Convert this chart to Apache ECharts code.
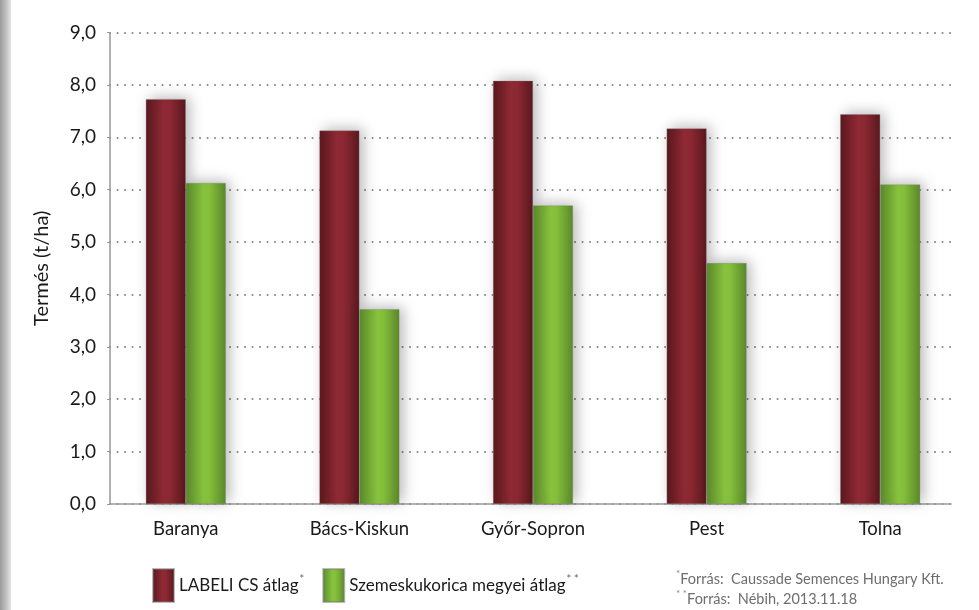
<!DOCTYPE html>
<html>
<head>
<meta charset="utf-8">
<script src="https://cdn.jsdelivr.net/npm/echarts@6/dist/echarts.min.js"></script>
<style>
html,body{margin:0;padding:0;background:#fff;}
#c{width:979px;height:610px;}
</style>
</head>
<body>
<div id="c"></div>
<script>
const categories = ['Baranya', 'Bács-Kiskun', 'Győr-Sopron', 'Pest', 'Tolna'];
const labeliValues = [7.73, 7.13, 8.08, 7.17, 7.44];
const megyeiValues = [6.13, 3.72, 5.70, 4.60, 6.10];
const seriesNames = ['LABELI CS átlag', 'Szemeskukorica megyei átlag'];
const seriesMarks = ['*', '* *'];
const yTicks = [0, 1, 2, 3, 4, 5, 6, 7, 8, 9];
const yName = 'Termés (t/ha)';
const footnotes = ['Forrás:  Caussade Semences Hungary Kft.', 'Forrás:  Nébih, 2013.11.18'];

const FONT = 'Lato, "Open Sans", sans-serif';
const chart = echarts.init(document.getElementById('c'));

const redGrad = new echarts.graphic.LinearGradient(0, 0, 1, 0, [
  {offset: 0, color: '#5a181e'},
  {offset: 0.45, color: '#8f2a34'},
  {offset: 0.6, color: '#8c2832'},
  {offset: 1, color: '#5a181e'}
]);
const greenGrad = new echarts.graphic.LinearGradient(0, 0, 1, 0, [
  {offset: 0, color: '#5a882b'},
  {offset: 0.45, color: '#88c33d'},
  {offset: 0.6, color: '#84be3a'},
  {offset: 1, color: '#5a882b'}
]);

chart.setOption({
  animation: false,
  backgroundColor: '#fff',
  grid: [
    {left: 110, right: 28, top: 32.6, bottom: 106},
    {left: 99, width: 868, top: 32.6, bottom: 106}
  ],
  xAxis: [
    {type: 'category', gridIndex: 0, data: categories,
      axisLine: {show: true, lineStyle: {color: '#999', width: 1.5}},
      axisTick: {show: false}, axisLabel: {show: false}, splitLine: {show: false}},
    {type: 'category', gridIndex: 1, data: categories,
      axisLine: {show: false}, axisTick: {show: false},
      axisLabel: {color: '#1a1a1a', fontSize: 18.5, fontFamily: FONT, margin: 16}}
  ],
  yAxis: [
    {type: 'value', gridIndex: 0, min: yTicks[0], max: yTicks[yTicks.length - 1], interval: 1,
      name: yName, nameLocation: 'middle', nameGap: 58, nameRotate: 90,
      nameTextStyle: {color: '#1a1a1a', fontSize: 20, fontFamily: FONT},
      axisLine: {show: true, lineStyle: {color: '#999', width: 1.5}},
      axisTick: {show: true, length: 3, lineStyle: {color: '#999'}},
      axisLabel: {color: '#1a1a1a', fontSize: 19, fontFamily: FONT, margin: 14,
        formatter: v => v.toFixed(1).replace('.', ',')},
      splitLine: {show: true, lineStyle: {color: '#8a8a8a', width: 2, type: [0.1, 7.4], cap: 'round'}}},
    {type: 'value', gridIndex: 1, min: yTicks[0], max: yTicks[yTicks.length - 1], interval: 1,
      show: false, splitLine: {show: false}}
  ],
  legend: {
    left: 147, top: 563, itemWidth: 21, itemHeight: 33, itemGap: 18,
    icon: 'rect',
    data: seriesNames,
    formatter: name => '{t|' + name + '}{s|' + seriesMarks[seriesNames.indexOf(name)] + '}',
    textStyle: {
      fontFamily: FONT,
      rich: {
        t: {fontSize: 17, color: '#1a1a1a', fontFamily: FONT},
        s: {fontSize: 11, color: '#666', fontFamily: FONT, verticalAlign: 'top', padding: [0, 0, 12, 1]}
      }
    }
  },
  graphic: [
    {type: 'rect', left: 0, top: 0, shape: {width: 11, height: 610}, silent: true,
      style: {fill: new echarts.graphic.LinearGradient(0, 0, 1, 0, [
        {offset: 0, color: '#9a9a9a'}, {offset: 0.6, color: '#c4c4c4'}, {offset: 1, color: '#e6e6e6'}])}},
    {type: 'text', left: 676, top: 569, silent: true,
      style: {text: '{s|*}{t|' + footnotes[0] + '}', rich: {
        t: {fontSize: 14.5, fill: '#6e6e6e', fontFamily: FONT},
        s: {fontSize: 10, fill: '#888', fontFamily: FONT, padding: [0, 0, 10, 0]}}}},
    {type: 'text', left: 676, top: 589, silent: true,
      style: {text: '{s|* *}{t|' + footnotes[1] + '}', rich: {
        t: {fontSize: 14.5, fill: '#6e6e6e', fontFamily: FONT},
        s: {fontSize: 10, fill: '#888', fontFamily: FONT, padding: [0, 0, 10, 0]}}}}
  ],
  series: [
    {name: seriesNames[0], type: 'bar', xAxisIndex: 1, yAxisIndex: 1, data: labeliValues,
      barWidth: 40, barGap: '0%',
      itemStyle: {color: redGrad, borderColor: 'rgba(120,120,120,0.5)', borderWidth: 0.6,
        shadowBlur: 14, shadowColor: 'rgba(0,0,0,0.28)', shadowOffsetX: 4, shadowOffsetY: -2}},
    {name: seriesNames[1], type: 'bar', xAxisIndex: 1, yAxisIndex: 1, data: megyeiValues,
      barWidth: 40, barGap: '0%',
      itemStyle: {color: greenGrad, borderColor: 'rgba(120,120,120,0.5)', borderWidth: 0.6,
        shadowBlur: 14, shadowColor: 'rgba(0,0,0,0.28)', shadowOffsetX: 4, shadowOffsetY: -2}}
  ]
});
</script>
</body>
</html>
